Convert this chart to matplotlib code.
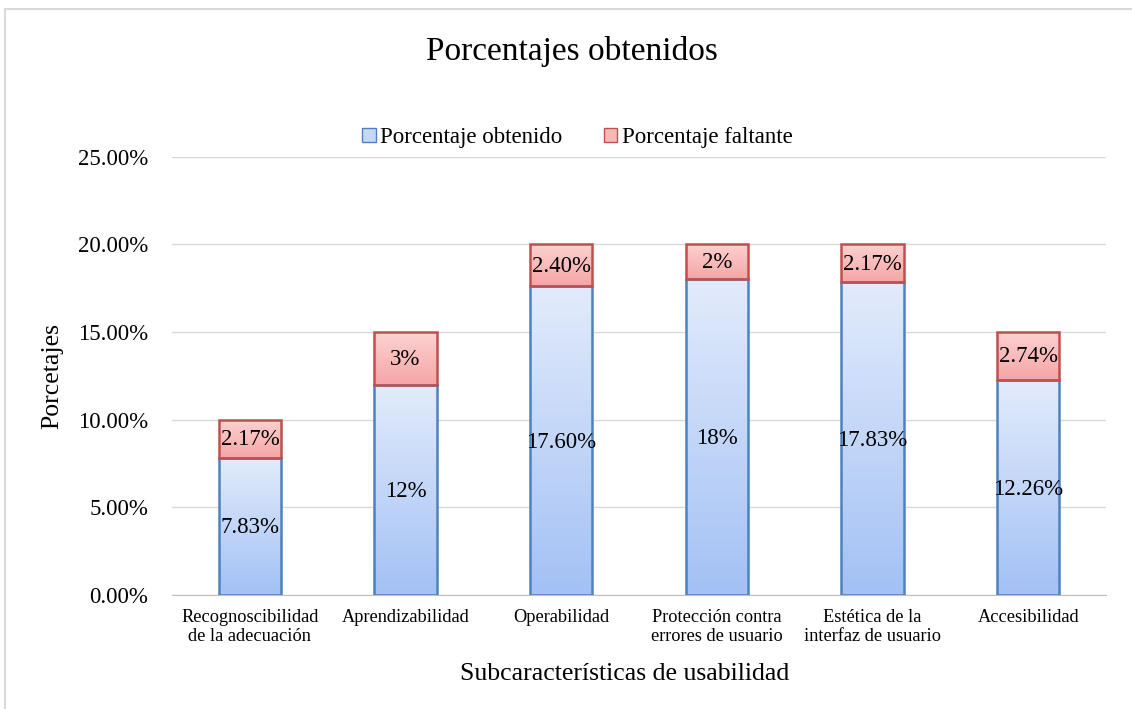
import numpy as np
import matplotlib.pyplot as plt
from matplotlib.patches import Rectangle, Patch
from matplotlib.ticker import FuncFormatter

plt.rcParams['font.family'] = ['Liberation Serif', 'DejaVu Serif']

categorias = ["Recognoscibilidad\nde la adecuación", "Aprendizabilidad", "Operabilidad",
              "Protección contra\nerrores de usuario", "Estética de la\ninterfaz de usuario",
              "Accesibilidad"]
obtenido = [7.83, 12, 17.60, 18, 17.83, 12.26]
faltante = [2.17, 3, 2.40, 2, 2.17, 2.74]
etq_obtenido = ["7.83%", "12%", "17.60%", "18%", "17.83%", "12.26%"]
etq_faltante = ["2.17%", "3%", "2.40%", "2%", "2.17%", "2.74%"]

fig = plt.figure(figsize=(11.32, 7.09), dpi=100)
ax = fig.add_axes([0.152, 0.161, 0.825, 0.618])

x = np.arange(len(categorias))
w = 0.4


def barra_gradiente(ax, x0, y0, alto, c_arriba, c_abajo, borde):
    grad = np.linspace(0, 1, 100).reshape(-1, 1)
    c1 = np.array(plt.matplotlib.colors.to_rgb(c_abajo))
    c2 = np.array(plt.matplotlib.colors.to_rgb(c_arriba))
    img = c1 + (c2 - c1) * grad[:, :, None]
    im = ax.imshow(img, extent=[x0 - w / 2, x0 + w / 2, y0, y0 + alto], origin='lower',
                   aspect='auto', zorder=2)
    r = Rectangle((x0 - w / 2, y0), w, alto, facecolor='none', edgecolor=borde, lw=1.8, zorder=3)
    ax.add_patch(r)
    im.set_clip_path(r)


for i in range(len(categorias)):
    barra_gradiente(ax, x[i], 0, obtenido[i], '#e2ebfb', '#a3c1f5', '#4f81bd')
    barra_gradiente(ax, x[i], obtenido[i], faltante[i], '#fcd2d2', '#f6a5a5', '#c0504d')
    ax.text(x[i], obtenido[i] / 2 - 0.1, etq_obtenido[i], ha='center', va='center', fontsize=16.5, zorder=4)
    ax.text(x[i], obtenido[i] + faltante[i] / 2 - 0.05, etq_faltante[i], ha='center', va='center',
            fontsize=16.5, zorder=4)

ax.set_xlim(-0.5, len(categorias) - 0.5)
ax.set_ylim(0, 25)
ax.set_yticks(np.arange(0, 26, 5))
ax.yaxis.set_major_formatter(FuncFormatter(lambda v, p: f"{v:.2f}%"))
ax.set_xticks(x)
ax.set_xticklabels(categorias, fontsize=13.2, linespacing=1.2)
ax.tick_params(axis='y', labelsize=16.5, length=0, pad=17)
ax.tick_params(axis='x', length=0, pad=10)
ax.grid(axis='y', color='#d9d9d9', lw=1)
ax.set_axisbelow(True)
for s in ['top', 'right', 'left']:
    ax.spines[s].set_visible(False)
ax.spines['bottom'].set_color('#bfbfbf')

ax.set_ylabel("Porcetajes", fontsize=18.5, labelpad=11)
ax.set_xlabel("Subcaracterísticas de usabilidad", fontsize=18.5)
ax.xaxis.set_label_coords(0.485, -0.155)

fig.text(0.505, 0.927, "Porcentajes obtenidos", ha='center', va='center', fontsize=24)
handles = [Patch(facecolor='#c5d8f8', edgecolor='#4f81bd'),
           Patch(facecolor='#f8b8b8', edgecolor='#c0504d')]
fig.legend(handles, ["Porcentaje obtenido", "Porcentaje faltante"], loc='center',
           bbox_to_anchor=(0.51, 0.806), ncol=2, frameon=False, fontsize=16.5,
           handlelength=0.6, handleheight=0.6, handletextpad=0.2, columnspacing=1.8)

# borde del área del gráfico
fig.add_artist(plt.Line2D([0.004, 1], [0.987, 0.987], color='#d9d9d9', lw=1.5, transform=fig.transFigure))
fig.add_artist(plt.Line2D([0.004, 0.004], [0, 0.987], color='#d9d9d9', lw=1.5, transform=fig.transFigure))

fig.savefig("out.png", dpi=100)
